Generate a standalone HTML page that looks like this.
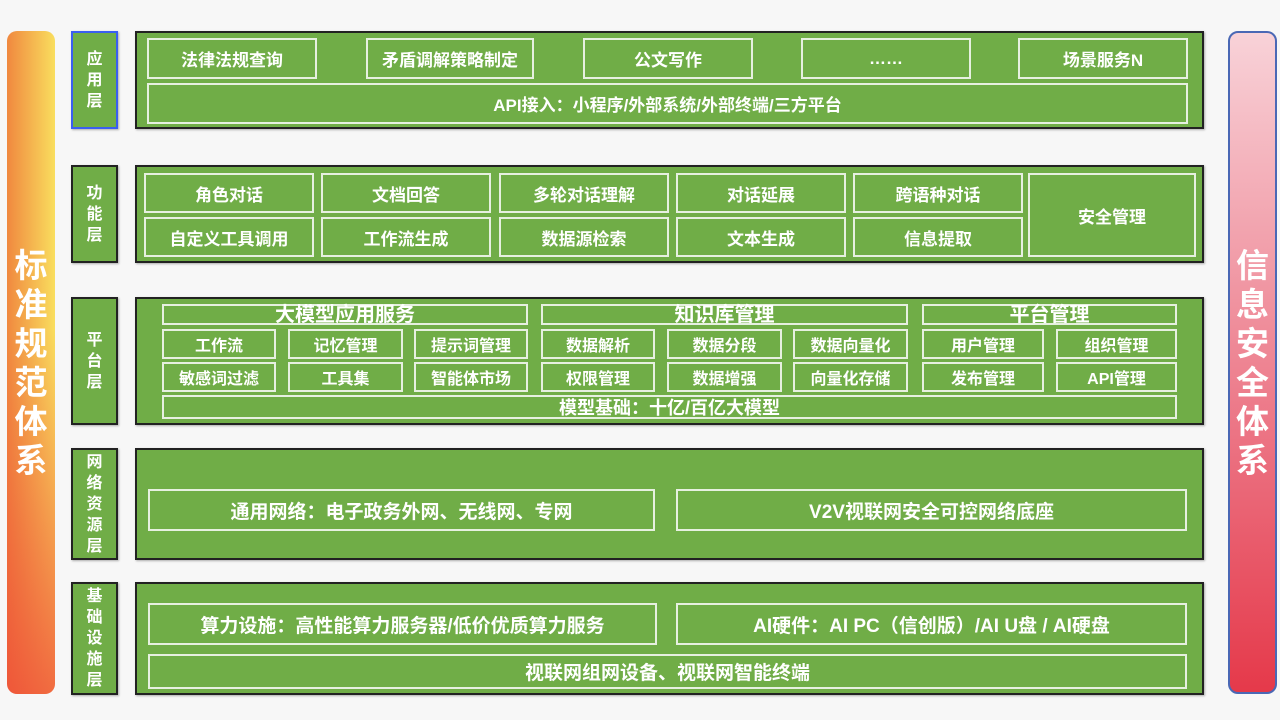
<!DOCTYPE html>
<html style="width:1280px;height:720px;overflow:hidden"><head><meta charset="utf-8">
<style>
*{margin:0;padding:0;box-sizing:border-box}
body{width:1280px;height:720px;position:relative;overflow:hidden;background:#f7f7f7;font-family:"Liberation Sans","Noto Sans CJK SC",sans-serif;font-weight:bold;color:#fff}
.a{position:absolute;display:flex;align-items:center;justify-content:center;text-align:center;white-space:nowrap}
.lab{background:#70ad47;border:2px solid #222;font-size:16px;line-height:21px;flex-direction:column;box-shadow:1px 1px 2px rgba(0,0,0,.3)}
.main{background:#70ad47;border:2px solid #222;box-shadow:1px 1px 2px rgba(0,0,0,.3)}
.c{border:2px solid #e6f0e0;font-size:17px;background:#70ad47}
.s{font-size:16px}
.h{font-size:20px;line-height:18px}
.side{font-size:33px;line-height:39px;flex-direction:column;border-radius:10px}
</style></head><body>

<div class="a side" style="left:7px;top:31px;width:48px;height:663px;background:linear-gradient(to bottom,rgba(240,80,60,0) 45%,rgba(238,70,55,.75) 100%),linear-gradient(to right,#f0883f,#f9de5e)"><span>标</span><span>准</span><span>规</span><span>范</span><span>体</span><span>系</span></div>
<div class="a side" style="left:1228px;top:31px;width:49px;height:663px;border:2px solid #4a68b5;background:linear-gradient(to bottom,#f8d2d8,#ec7585 60%,#e5394a)"><span>信</span><span>息</span><span>安</span><span>全</span><span>体</span><span>系</span></div>

<div class="a lab" style="left:71px;top:31px;width:47px;height:98px;border-color:#3a5ef0"><span>应</span><span>用</span><span>层</span></div>
<div class="a lab" style="left:71px;top:165px;width:47px;height:98px"><span>功</span><span>能</span><span>层</span></div>
<div class="a lab" style="left:71px;top:297px;width:47px;height:128px"><span>平</span><span>台</span><span>层</span></div>
<div class="a lab" style="left:71px;top:448px;width:47px;height:112px"><span>网</span><span>络</span><span>资</span><span>源</span><span>层</span></div>
<div class="a lab" style="left:71px;top:582px;width:47px;height:113px"><span>基</span><span>础</span><span>设</span><span>施</span><span>层</span></div>

<div class="a main" style="left:135px;top:31px;width:1069px;height:98px"></div>
<div class="a main" style="left:135px;top:165px;width:1069px;height:98px"></div>
<div class="a main" style="left:135px;top:297px;width:1069px;height:128px"></div>
<div class="a main" style="left:135px;top:448px;width:1069px;height:112px"></div>
<div class="a main" style="left:135px;top:582px;width:1069px;height:113px"></div>

<!-- row1 -->
<div class="a c" style="left:147px;top:38px;width:170px;height:41px">法律法规查询</div>
<div class="a c" style="left:366px;top:38px;width:168px;height:41px">矛盾调解策略制定</div>
<div class="a c" style="left:583px;top:38px;width:170px;height:41px">公文写作</div>
<div class="a c" style="left:801px;top:38px;width:170px;height:41px">……</div>
<div class="a c" style="left:1018px;top:38px;width:170px;height:41px">场景服务N</div>
<div class="a c" style="left:147px;top:83px;width:1041px;height:41px">API接入：小程序/外部系统/外部终端/三方平台</div>

<!-- row2 -->
<div class="a c" style="left:144px;top:173px;width:170px;height:40px">角色对话</div>
<div class="a c" style="left:321px;top:173px;width:170px;height:40px">文档回答</div>
<div class="a c" style="left:499px;top:173px;width:170px;height:40px">多轮对话理解</div>
<div class="a c" style="left:676px;top:173px;width:170px;height:40px">对话延展</div>
<div class="a c" style="left:853px;top:173px;width:170px;height:40px">跨语种对话</div>
<div class="a c" style="left:144px;top:217px;width:170px;height:40px">自定义工具调用</div>
<div class="a c" style="left:321px;top:217px;width:170px;height:40px">工作流生成</div>
<div class="a c" style="left:499px;top:217px;width:170px;height:40px">数据源检索</div>
<div class="a c" style="left:676px;top:217px;width:170px;height:40px">文本生成</div>
<div class="a c" style="left:853px;top:217px;width:170px;height:40px">信息提取</div>
<div class="a c" style="left:1028px;top:173px;width:168px;height:84px">安全管理</div>

<!-- row3 -->
<div class="a c h" style="left:162px;top:304px;width:366px;height:21px">大模型应用服务</div>
<div class="a c h" style="left:541px;top:304px;width:367px;height:21px">知识库管理</div>
<div class="a c h" style="left:922px;top:304px;width:255px;height:21px">平台管理</div>
<div class="a c s" style="left:162px;top:329px;width:114px;height:30px">工作流</div>
<div class="a c s" style="left:288px;top:329px;width:115px;height:30px">记忆管理</div>
<div class="a c s" style="left:414px;top:329px;width:114px;height:30px">提示词管理</div>
<div class="a c s" style="left:541px;top:329px;width:114px;height:30px">数据解析</div>
<div class="a c s" style="left:667px;top:329px;width:115px;height:30px">数据分段</div>
<div class="a c s" style="left:793px;top:329px;width:115px;height:30px">数据向量化</div>
<div class="a c s" style="left:922px;top:329px;width:122px;height:30px">用户管理</div>
<div class="a c s" style="left:1056px;top:329px;width:121px;height:30px">组织管理</div>
<div class="a c s" style="left:162px;top:362px;width:114px;height:30px">敏感词过滤</div>
<div class="a c s" style="left:288px;top:362px;width:115px;height:30px">工具集</div>
<div class="a c s" style="left:414px;top:362px;width:114px;height:30px">智能体市场</div>
<div class="a c s" style="left:541px;top:362px;width:114px;height:30px">权限管理</div>
<div class="a c s" style="left:667px;top:362px;width:115px;height:30px">数据增强</div>
<div class="a c s" style="left:793px;top:362px;width:115px;height:30px">向量化存储</div>
<div class="a c s" style="left:922px;top:362px;width:122px;height:30px">发布管理</div>
<div class="a c s" style="left:1056px;top:362px;width:121px;height:30px">API管理</div>
<div class="a c" style="left:162px;top:395px;width:1015px;height:24px;font-size:18px">模型基础：十亿/百亿大模型</div>

<!-- row4 -->
<div class="a c" style="left:148px;top:489px;width:507px;height:42px;font-size:19px">通用网络：电子政务外网、无线网、专网</div>
<div class="a c" style="left:676px;top:489px;width:511px;height:42px;font-size:19px">V2V视联网安全可控网络底座</div>

<!-- row5 -->
<div class="a c" style="left:148px;top:603px;width:509px;height:42px;font-size:19px">算力设施：高性能算力服务器/低价优质算力服务</div>
<div class="a c" style="left:676px;top:603px;width:511px;height:42px;font-size:19px">AI硬件：AI PC（信创版）/AI U盘 / AI硬盘</div>
<div class="a c" style="left:148px;top:654px;width:1039px;height:35px;font-size:19px">视联网组网设备、视联网智能终端</div>
</body></html>
